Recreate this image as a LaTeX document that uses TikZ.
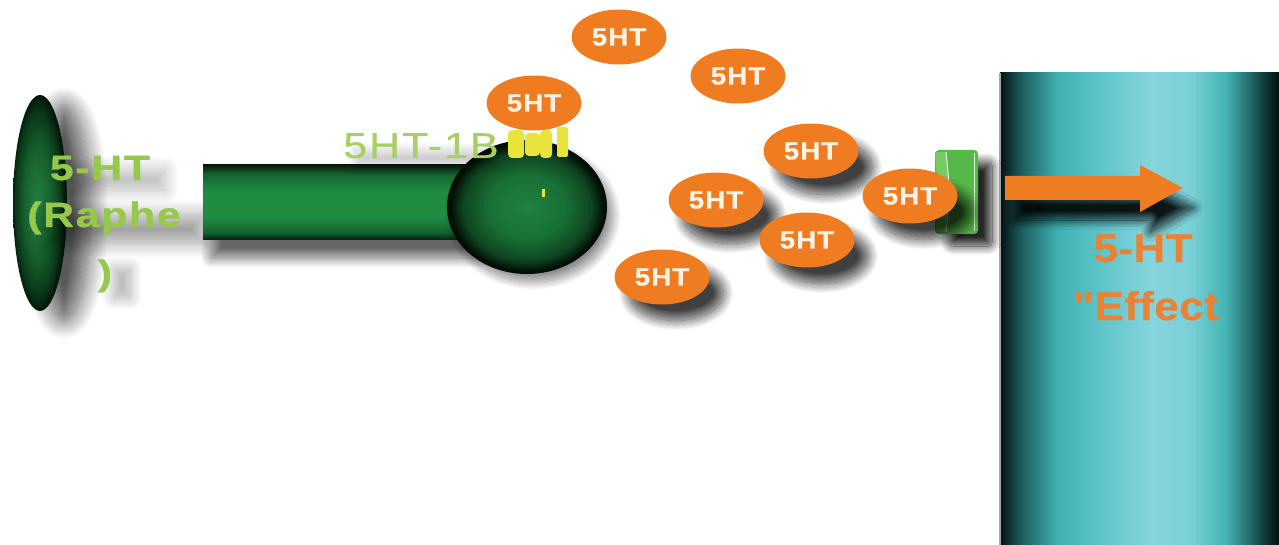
\documentclass[tikz,border=0pt]{standalone}
\usepackage{fontspec}
\setmainfont{Liberation Sans}
\newfontfamily\labelfont{Liberation Sans Bold}[LetterSpace=5, FakeStretch=1.22, FakeBold=1]
\newfontfamily\receptorfont{Liberation Sans}[LetterSpace=5, FakeStretch=1.2, FakeBold=0.5]
\newfontfamily\pillfont{Liberation Sans Bold}[LetterSpace=5, FakeStretch=1.1, FakeBold=0.8]
\newfontfamily\effectfont{Liberation Sans Bold}[LetterSpace=1, FakeStretch=1.1, FakeBold=0.6]
\usetikzlibrary{shapes.geometric,shadows.blur}

% palette
\definecolor{pillorange}{HTML}{F07C22}
\definecolor{pilltext}{HTML}{FFF3E6}
\definecolor{leaf}{HTML}{96C84B}
\definecolor{leaflight}{HTML}{A8CF64}
\definecolor{effectorange}{HTML}{EA8235}
\definecolor{pollen}{HTML}{E9E43C}
\definecolor{receptorgreen}{HTML}{55B848}
\definecolor{receptorlight}{HTML}{74CC62}
% target cell tube
\definecolor{t0}{HTML}{051010}
\definecolor{t1}{HTML}{1A5A5A}
\definecolor{t2}{HTML}{3FB0B0}
\definecolor{t3}{HTML}{5CC4C8}
\definecolor{t4}{HTML}{86D4DC}
\definecolor{t5}{HTML}{7AD0D6}
\definecolor{t6}{HTML}{45B5B5}
\definecolor{t7}{HTML}{226A6A}
\definecolor{t8}{HTML}{0C2E2E}
% axon
\definecolor{a0}{HTML}{071C0C}
\definecolor{a1}{HTML}{146230}
\definecolor{a2}{HTML}{1F8C42}
% terminal bulb
\definecolor{b0}{HTML}{1F8240}
\definecolor{b1}{HTML}{187036}
\definecolor{b2}{HTML}{0E4520}
\definecolor{b3}{HTML}{020E05}
% raphe cell body
\definecolor{r0}{HTML}{228040}
\definecolor{r1}{HTML}{16602D}
\definecolor{r2}{HTML}{0B3818}
\definecolor{r3}{HTML}{03160A}

\pgfdeclarehorizontalshading{tealtube}{100bp}{color(0bp)=(t0); color(25bp)=(t0);
  color(28.6bp)=(t1); color(35.2bp)=(t2); color(42.9bp)=(t3); color(51.9bp)=(t4);
  color(59bp)=(t5); color(65.3bp)=(t6); color(69.8bp)=(t7); color(73bp)=(t8);
  color(75bp)=(t0); color(100bp)=(t0)}
\pgfdeclareverticalshading{axonshade}{100bp}{color(0bp)=(a0); color(25bp)=(a0);
  color(30bp)=(a1); color(40bp)=(a2); color(58bp)=(a2); color(69bp)=(a1);
  color(75bp)=(a0); color(100bp)=(a0)}
\pgfdeclareradialshading{bulbshade}{\pgfpoint{0bp}{0bp}}{color(0bp)=(b0);
  color(12bp)=(b1); color(20bp)=(b2); color(24bp)=(b3); color(25bp)=(b3); color(50bp)=(b3)}
\pgfdeclareradialshading{rapheshade}{\pgfpoint{-3bp}{0bp}}{color(0bp)=(r0);
  color(13bp)=(r1); color(21bp)=(r2); color(25bp)=(r3); color(50bp)=(r3)}

\tikzset{
  softshadow/.style n args={4}{blur shadow={shadow xshift=#1, shadow yshift=#2,
    shadow blur radius=#3, shadow opacity=#4, shadow blur steps=24}},
  pill/.style={ellipse, fill=pillorange, minimum width=95pt, minimum height=55pt,
    inner sep=0pt, text=pilltext, font=\pillfont\fontsize{25}{25}\selectfont},
  pillshadow/.style={softshadow={14pt}{-16pt}{10pt}{75}},
  raphelabel/.style={anchor=base, inner sep=0pt, text=leaf,
    font=\labelfont\fontsize{35}{35}\selectfont},
  receptorlabel/.style={anchor=base, inner sep=0pt, text=leaflight,
    font=\receptorfont\fontsize{36}{36}\selectfont},
  effectlabel/.style={anchor=base, inner sep=0pt, text=effectorange,
    font=\effectfont\fontsize{40}{40}\selectfont},
}

\begin{document}
\begin{tikzpicture}[x=1pt,y=-1pt]
\useasboundingbox (0,0) rectangle (1279,545);

% target cell
\shade[shading=tealtube] (1000,73) rectangle (1279,545);
\draw[gray!70, line width=1.5pt] (1000,73) -- (1000,545);

% receptor on the target cell
\fill[receptorgreen, rounded corners=4pt, softshadow={14pt}{-12pt}{9pt}{85}]
  (935,150) rectangle (978,234);
\fill[receptorlight] (935,152) .. controls (938,190) .. (936,232) -- (946,232)
  .. controls (949,190) .. (946,152) -- cycle;
\draw[white, line width=0.9pt] (946,152) .. controls (950,192) .. (946,232);
\draw[white!85!receptorgreen, line width=0.8pt] (974,153) -- (974,231);

% effect arrow
\fill[pillorange, softshadow={10pt}{-20pt}{9pt}{90}]
  (1005,176) -- (1140,176) -- (1140,165) -- (1183,188) -- (1140,212) -- (1140,200)
  -- (1005,200) -- cycle;

% label inside the target cell
\node[effectlabel] (effect1) at (1143,262) {5-HT};
\node[effectlabel] (effect2) at (1146,320) {"Effect};

% raphe cell body
\shade[shading=rapheshade, softshadow={24pt}{-10pt}{18pt}{65}]
  (40,203) ellipse [x radius=27, y radius=108];

% soft shade cast by the raphe label
\path[softshadow={0pt}{0pt}{14pt}{28}] (75,170) rectangle (165,190);
\path[softshadow={0pt}{0pt}{14pt}{36}] (50,214) rectangle (205,244);
\path[softshadow={0pt}{0pt}{12pt}{32}] (114,268) rectangle (130,298);

% axon
\shade[shading=axonshade, softshadow={8pt}{-18pt}{10pt}{60}]
  (203,165) rectangle (480,240);

% terminal bulb
\shade[shading=bulbshade, softshadow={6pt}{-8pt}{8pt}{45}]
  (527,207) ellipse [x radius=80, y radius=67];
\fill[pollen] (541.5,189) rectangle (545,197);

% raphe label
\node[raphelabel] (raphe1) at (100,180) {5-HT};
\node[raphelabel] (raphe2) at (104,227) {(Raphe};
\node[raphelabel] (raphe3) at (105,285) {)};

% autoreceptor label
\path[softshadow={0pt}{0pt}{8pt}{20}] (355,150) rectangle (495,166);
\node[receptorlabel] (auto) at (421,158) {5HT-1B};

% autoreceptor
\fill[pollen, rounded corners=4pt] (508,130) rectangle (524,158);
\fill[pollen, rounded corners=4pt] (525,133) rectangle (540,156);
\fill[pollen, rounded corners=4pt] (540,130) rectangle (552,158);
\fill[pollen, rounded corners=2pt] (557,127) rectangle (568,157);

% released serotonin
\node[pill] (p1) at (619,37) {5HT};
\node[pill] (p2) at (738,76) {5HT};
\node[pill] (p3) at (534,103) {5HT};
\node[pill, pillshadow] (p4) at (811,151) {5HT};
\node[pill, pillshadow] (p5) at (716,200) {5HT};
\node[pill, pillshadow] (p7) at (807,240) {5HT};
\node[pill, pillshadow] (p8) at (662,277) {5HT};
\node[pill, pillshadow] (p6) at (910,196) {5HT};

\end{tikzpicture}
\end{document}
